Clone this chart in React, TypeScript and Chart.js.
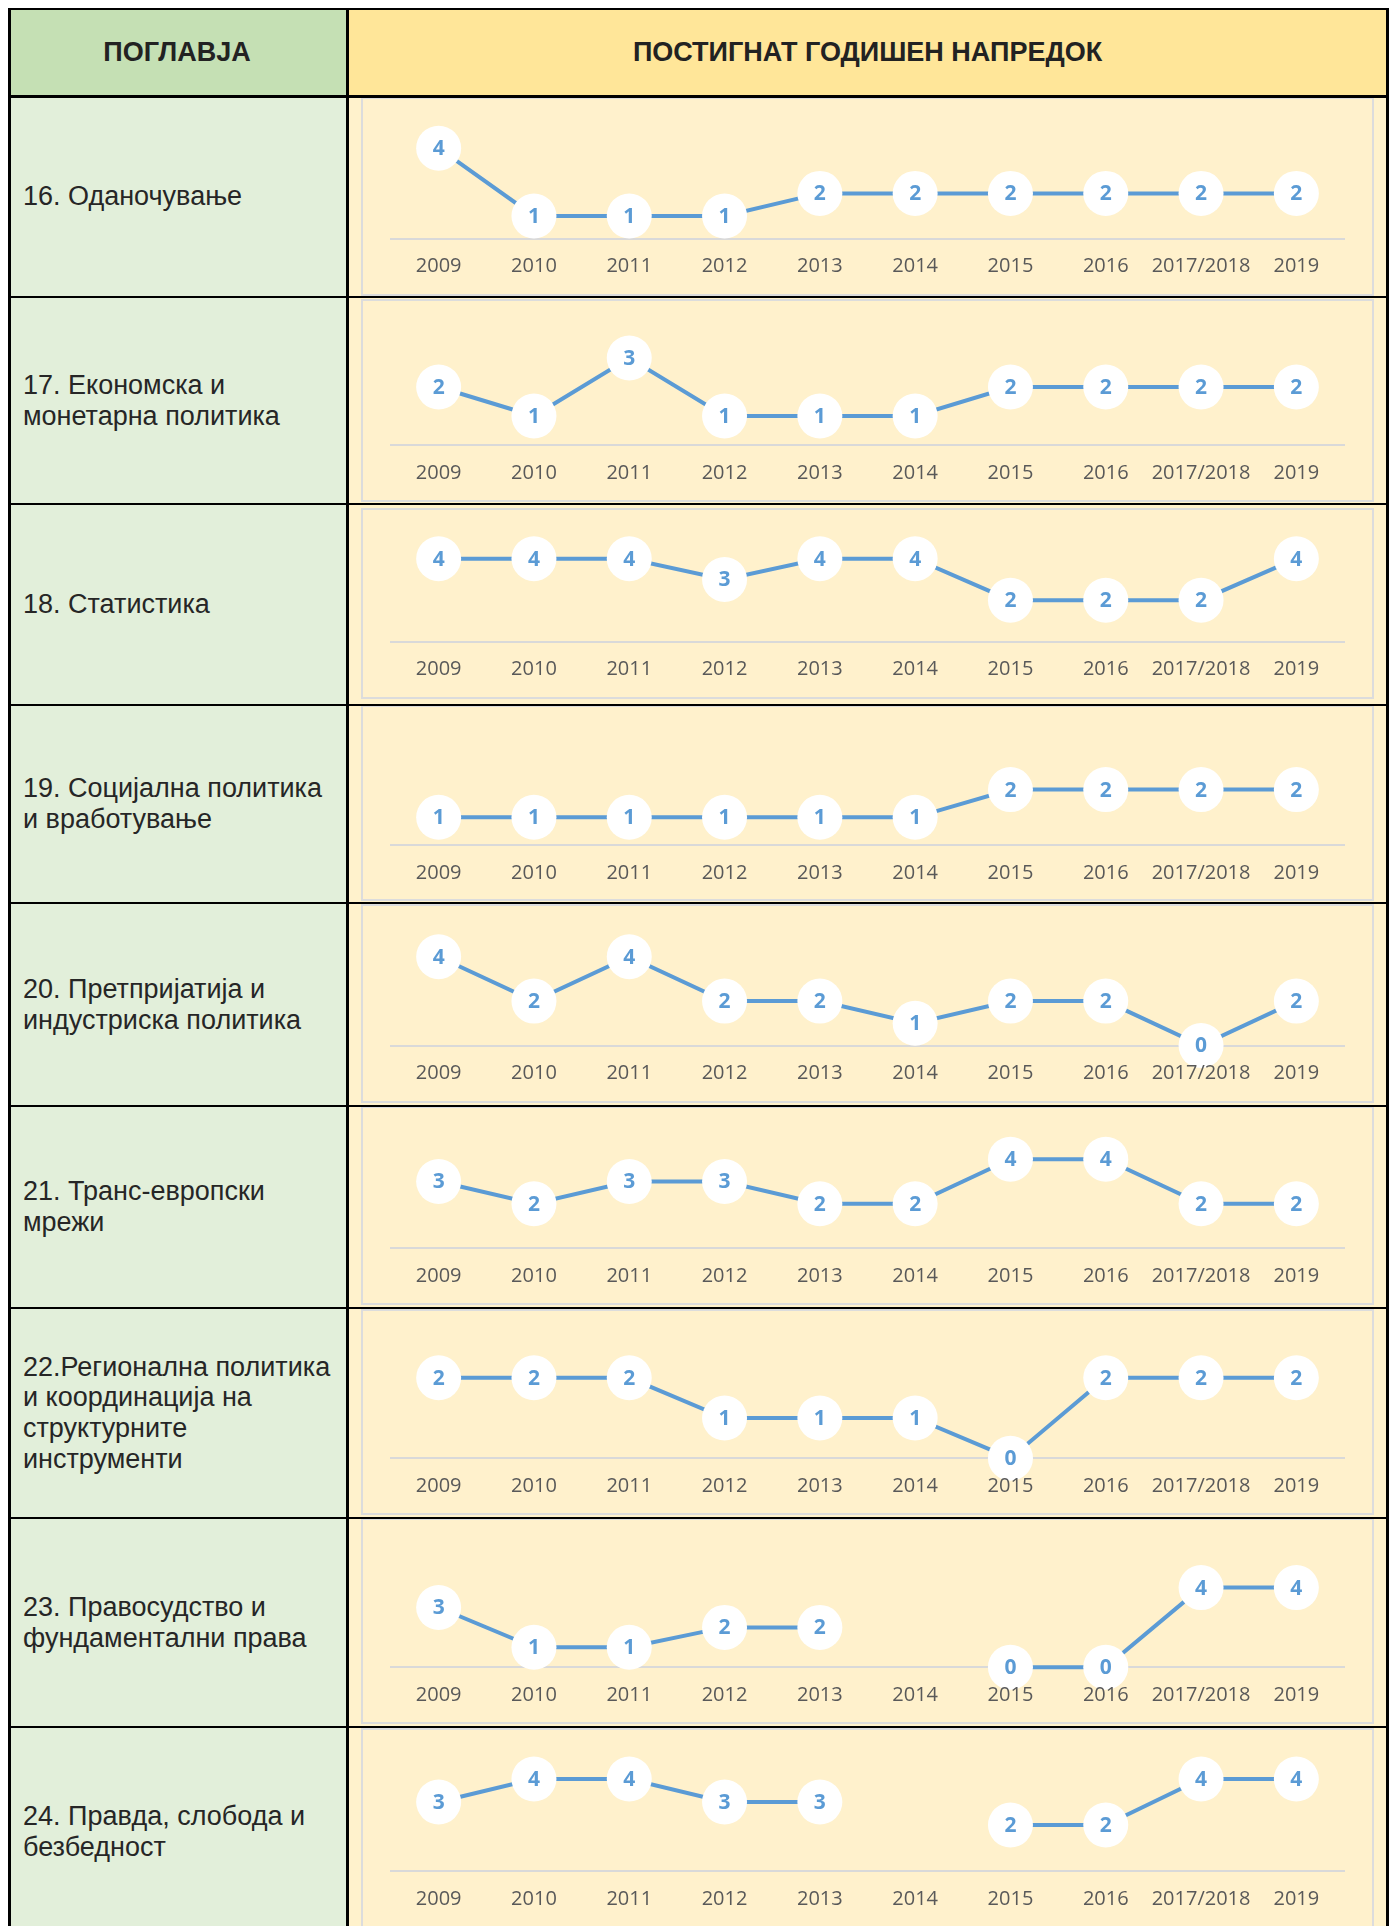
import React, { useEffect, useRef } from 'react';
import { Chart, registerables } from 'chart.js';

Chart.register(...registerables);

// ---------- data ----------
const YEARS = ['2009', '2010', '2011', '2012', '2013', '2014', '2015', '2016', '2017/2018', '2019'];

const HEADER_LEFT = 'ПОГЛАВЈА';
const HEADER_RIGHT = 'ПОСТИГНАТ ГОДИШЕН НАПРЕДОК';

const CHAPTER_16 = ['16. Оданочување'];
const CHAPTER_17 = ['17. Економска и', 'монетарна политика'];
const CHAPTER_18 = ['18. Статистика'];
const CHAPTER_19 = ['19. Социјална политика', 'и вработување'];
const CHAPTER_20 = ['20. Претпријатија и', 'индустриска политика'];
const CHAPTER_21 = ['21. Транс-европски', 'мрежи'];
const CHAPTER_22 = ['22.Регионална политика', 'и координација на', 'структурните', 'инструменти'];
const CHAPTER_23 = ['23. Правосудство и', 'фундаментални права'];
const CHAPTER_24 = ['24. Правда, слобода и', 'безбедност'];

const VALUES_16 = [4, 1, 1, 1, 2, 2, 2, 2, 2, 2];
const VALUES_17 = [2, 1, 3, 1, 1, 1, 2, 2, 2, 2];
const VALUES_18 = [4, 4, 4, 3, 4, 4, 2, 2, 2, 4];
const VALUES_19 = [1, 1, 1, 1, 1, 1, 2, 2, 2, 2];
const VALUES_20 = [4, 2, 4, 2, 2, 1, 2, 2, 0, 2];
const VALUES_21 = [3, 2, 3, 3, 2, 2, 4, 4, 2, 2];
const VALUES_22 = [2, 2, 2, 1, 1, 1, 0, 2, 2, 2];
const VALUES_23 = [3, 1, 1, 2, 2, null, 0, 0, 4, 4];
const VALUES_24 = [3, 4, 4, 3, 3, null, 2, 2, 4, 4];

const CHAPTERS = [CHAPTER_16, CHAPTER_17, CHAPTER_18, CHAPTER_19, CHAPTER_20, CHAPTER_21, CHAPTER_22, CHAPTER_23, CHAPTER_24];
const SERIES = [VALUES_16, VALUES_17, VALUES_18, VALUES_19, VALUES_20, VALUES_21, VALUES_22, VALUES_23, VALUES_24];

// ---------- layout (page pixels) ----------
const TABLE_LEFT = 8;
const TABLE_RIGHT = 1389;
const TABLE_TOP = 8;
const HEADER_LINE = 95;
const DIVIDER_X = 346;
const ROW_LINES = [95, 296, 503, 704, 902, 1105, 1307, 1517, 1726, 1936];
const BOXES = [
  [97, 296], [299, 502], [508, 699], [705, 901], [904, 1103],
  [1106, 1305], [1309, 1515], [1518, 1724], [1728, 1934],
];
const AXIS_Y = [238.6, 445, 641.7, 845, 1045.5, 1248.4, 1458.2, 1667.2, 1871];
const UNIT_PX = [22.6, 29, 20.75, 27.7, 22.2, 22.3, 40.2, 19.9, 23];
const CANVAS_LEFT = 349;
const CANVAS_WIDTH = 1037;
const TICK_PAD = 16;

const BLUE = '#5b9bd5';
const FONT_TEXT = '"Liberation Sans", Arial, sans-serif';

const valueLabels = {
  id: 'valueLabels',
  afterDatasetsDraw(chart: any) {
    const ctx = chart.ctx;
    chart.data.datasets.forEach((ds: any, di: number) => {
      const meta = chart.getDatasetMeta(di);
      meta.data.forEach((pt: any, i: number) => {
        const v = ds.data[i];
        if (v === null || v === undefined) return;
        ctx.save();
        ctx.font = 'bold 21px "Open Sans"';
        ctx.fillStyle = BLUE;
        ctx.textAlign = 'center';
        ctx.textBaseline = 'middle';
        ctx.fillText(String(v), pt.x, pt.y + 1);
        ctx.restore();
      });
    });
  },
};

function RowChart({ values, top, height, axisY, unit }: any) {
  const ref = useRef<HTMLCanvasElement>(null);
  useEffect(() => {
    const axisRel = axisY - top;
    const padTop = 6;
    const yMax = (axisRel - padTop) / unit;
    const xAxisH = 24 + 2 * TICK_PAD;
    const padBottom = Math.max(0, height - axisRel - xAxisH);
    const chart = new Chart(ref.current as HTMLCanvasElement, {
      type: 'line',
      data: {
        labels: YEARS,
        datasets: [
          {
            data: values,
            borderColor: BLUE,
            borderWidth: 4,
            pointRadius: 22.5,
            pointHoverRadius: 22.5,
            pointBackgroundColor: '#ffffff',
            pointBorderColor: '#ffffff',
            pointBorderWidth: 0,
            clip: false,
            spanGaps: false,
            tension: 0,
          } as any,
        ],
      },
      options: {
        animation: false,
        responsive: false,
        devicePixelRatio: 1,
        events: [],
        layout: { autoPadding: false, padding: { left: 42, right: 42, top: padTop, bottom: padBottom } },
        plugins: { legend: { display: false }, tooltip: { enabled: false } },
        scales: {
          x: {
            offset: true,
            grid: { display: false, drawTicks: false },
            border: { display: true, color: '#d9d9d9', width: 2 },
            ticks: {
              z: 1,
              autoSkip: false,
              maxRotation: 0,
              padding: TICK_PAD,
              color: '#595959',
              font: { family: '"Open Sans"', size: 20 },
            },
          },
          y: { display: false, min: 0, max: yMax },
        },
      } as any,
      plugins: [valueLabels],
    });
    return () => chart.destroy();
  }, []);
  return (
    <canvas
      ref={ref}
      width={CANVAS_WIDTH}
      height={height}
      style={{ position: 'absolute', left: CANVAS_LEFT, top, width: CANVAS_WIDTH, height, display: 'block' }}
    />
  );
}

function Rect(props: any) {
  const { x, y, w, h, bg, style } = props;
  return <div style={{ position: 'absolute', left: x, top: y, width: w, height: h, background: bg, ...style }} />;
}

export default function App() {
  const bottom = ROW_LINES[ROW_LINES.length - 1];
  const hLines = ROW_LINES.slice(0, -1);
  return (
    <div style={{ position: 'absolute', left: 0, top: 0, width: 1394, height: 1926, overflow: 'hidden' }}>
      <style>{'html,body{overflow:hidden;}'}</style>
      {/* backgrounds */}
      <Rect x={TABLE_LEFT} y={TABLE_TOP} w={DIVIDER_X - TABLE_LEFT} h={HEADER_LINE - TABLE_TOP} bg="#c5e0b4" />
      <Rect x={DIVIDER_X} y={TABLE_TOP} w={TABLE_RIGHT - DIVIDER_X} h={HEADER_LINE - TABLE_TOP} bg="#ffe699" />
      <Rect x={TABLE_LEFT} y={HEADER_LINE} w={DIVIDER_X - TABLE_LEFT} h={bottom - HEADER_LINE} bg="#e2efda" />
      <Rect x={DIVIDER_X} y={HEADER_LINE} w={TABLE_RIGHT - DIVIDER_X} h={bottom - HEADER_LINE} bg="#fff2cc" />

      {/* chart boxes */}
      {BOXES.map((b, i) => (
        <div
          key={'box' + i}
          style={{
            position: 'absolute',
            left: 361,
            top: b[0],
            width: 1374 - 361,
            height: b[1] - b[0],
            boxSizing: 'border-box',
            border: '2px solid #dcdcdc',
            background: '#fff1cc',
          }}
        />
      ))}

      {/* header texts */}
      <div
        style={{
          position: 'absolute', left: TABLE_LEFT, top: TABLE_TOP + 2, width: DIVIDER_X - TABLE_LEFT,
          height: HEADER_LINE - TABLE_TOP - 2, display: 'flex', alignItems: 'center', justifyContent: 'center',
          font: `bold 27px ${FONT_TEXT}`, color: '#222222',
        }}
      >
        {HEADER_LEFT}
      </div>
      <div
        style={{
          position: 'absolute', left: DIVIDER_X + 3, top: TABLE_TOP + 2, width: TABLE_RIGHT - DIVIDER_X - 6,
          height: HEADER_LINE - TABLE_TOP - 2, display: 'flex', alignItems: 'center', justifyContent: 'center',
          font: `bold 27px ${FONT_TEXT}`, color: '#222222',
        }}
      >
        {HEADER_RIGHT}
      </div>

      {/* chapter labels */}
      {CHAPTERS.map((lines, i) => (
        <div
          key={'lab' + i}
          style={{
            position: 'absolute', left: 23, top: ROW_LINES[i] + 2, width: DIVIDER_X - 23,
            height: ROW_LINES[i + 1] - ROW_LINES[i] - 2, display: 'flex', alignItems: 'center',
            font: `27px ${FONT_TEXT}`, lineHeight: '30.7px', color: '#262626', whiteSpace: 'nowrap',
          }}
        >
          <div>
            {lines.map((l, j) => (
              <div key={j}>{l}</div>
            ))}
          </div>
        </div>
      ))}

      {/* charts */}
      {SERIES.map((vals, i) => (
        <RowChart
          key={'c' + i}
          values={vals}
          top={ROW_LINES[i] + 2}
          height={ROW_LINES[i + 1] - ROW_LINES[i] - 2}
          axisY={AXIS_Y[i]}
          unit={UNIT_PX[i]}
        />
      ))}

      {/* table borders */}
      <Rect x={TABLE_LEFT} y={TABLE_TOP} w={TABLE_RIGHT - TABLE_LEFT} h={2} bg="#000" />
      <Rect x={TABLE_LEFT} y={TABLE_TOP} w={3} h={bottom - TABLE_TOP} bg="#000" />
      <Rect x={TABLE_RIGHT - 3} y={TABLE_TOP} w={3} h={bottom - TABLE_TOP} bg="#000" />
      <Rect x={DIVIDER_X} y={TABLE_TOP} w={3} h={bottom - TABLE_TOP} bg="#000" />
      {hLines.map((y, i) => (
        <Rect key={'h' + i} x={TABLE_LEFT} y={y} w={TABLE_RIGHT - TABLE_LEFT} h={i === 0 ? 2.5 : 2} bg="#000" />
      ))}
    </div>
  );
}
